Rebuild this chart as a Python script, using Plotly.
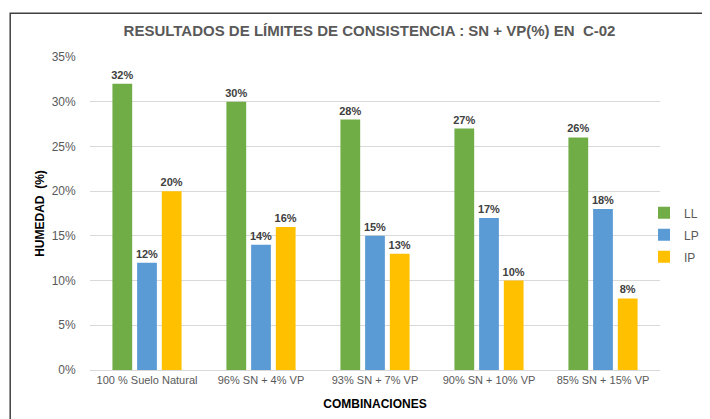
import plotly.graph_objects as go

categories = ["100 % Suelo Natural", "96% SN + 4% VP", "93% SN + 7% VP", "90% SN + 10% VP", "85% SN + 15% VP"]
ll_values = [0.32, 0.30, 0.28, 0.27, 0.26]
lp_values = [0.12, 0.14, 0.15, 0.17, 0.18]
ip_values = [0.20, 0.16, 0.13, 0.10, 0.08]
series_names = ["LL", "LP", "IP"]
colors = ["#70AD47", "#5B9BD5", "#FFC000"]

FONT = "Liberation Sans, Arial"

fig = go.Figure()
for name, vals, col in zip(series_names, [ll_values, lp_values, ip_values], colors):
    fig.add_trace(go.Bar(
        x=categories, y=vals, name=name, legendgroup=name,
        marker=dict(color=col, line=dict(width=0)),
        text=[f"{round(v*100)}%" for v in vals], textposition="outside",
        textfont=dict(family=FONT, size=11, color="#404040"),
        texttemplate="<b>%{text}</b>", cliponaxis=False, constraintext="none",
    ))

fig.update_layout(
    width=702, height=411,
    margin=dict(l=82, r=50, t=49, b=49, autoexpand=False),
    paper_bgcolor="white", plot_bgcolor="white",
    barmode="group", bargap=0.35, bargroupgap=0.2,
    title=dict(text="<b>RESULTADOS DE LÍMITES DE CONSISTENCIA : SN + VP(%) EN  C-02</b>",
               x=0.515, xanchor="center", y=0.945, yanchor="middle",
               font=dict(family=FONT, size=15, color="#595959")),
    font=dict(family=FONT, color="#595959"),
    legend=dict(xref="container", yref="container", x=0.906, y=0.448, xanchor="left", yanchor="middle",
                font=dict(family=FONT, size=12, color="#595959"),
                traceorder="grouped", itemwidth=30, tracegroupgap=3, bgcolor="rgba(0,0,0,0)"),
    showlegend=True,
    xaxis=dict(showline=True, linecolor="#D9D9D9", ticks="", tickfont=dict(size=11, color="#595959"),
               title=dict(text="<b>COMBINACIONES</b>", font=dict(size=12, color="black"), standoff=14)),
    yaxis=dict(range=[0, 0.35], dtick=0.05, tickformat=".0%", showgrid=True, gridcolor="#D9D9D9",
               zeroline=False, ticks="", tickfont=dict(size=12, color="#595959"), ticksuffix="    ",
               title=dict(text="<b>HUMEDAD  (%)</b>", font=dict(size=12, color="black"), standoff=4)),
    shapes=[dict(type="rect", xref="paper", yref="paper", x0=-0.14, x1=1.3, y0=-0.3, y1=1.14,
                 line=dict(color="#404040", width=1.5))],
)

fig.write_html("out.html")
